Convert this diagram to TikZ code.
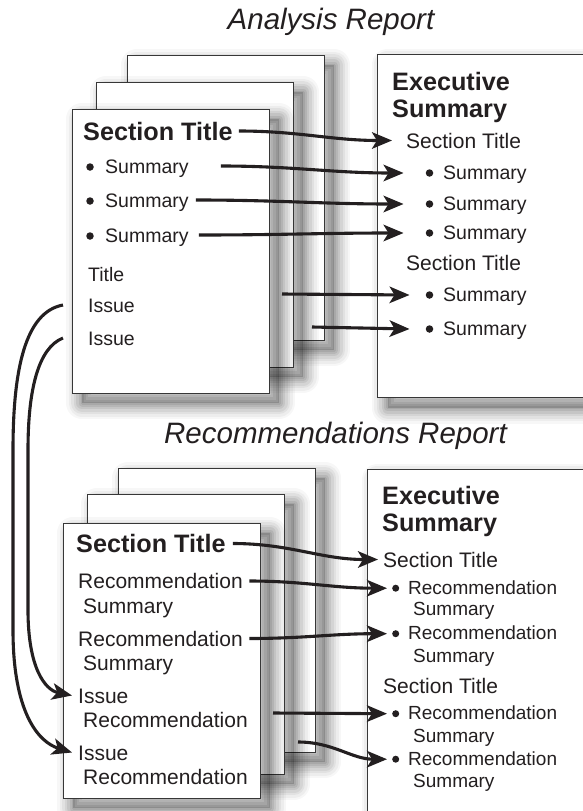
\documentclass[tikz,border=0pt]{standalone}
\usepackage{fontspec}
\setmainfont{Liberation Sans}
\usetikzlibrary{arrows.meta}
\definecolor{ink}{RGB}{35,31,32}
\definecolor{frame}{RGB}{55,55,55}

\begin{document}
\begin{tikzpicture}[x=1pt,y=-1pt,
  % soft drop shadow built from stacked translucent strokes
  shl/.style 2 args={preaction={draw=black, draw opacity=#2, line width=#1,
      line join=round, transform canvas={shift={(10pt,-10pt)}}}},
  softshadow/.style={
    preaction={fill=black, fill opacity=0.16, transform canvas={shift={(10pt,-10pt)}}},
    shl={32pt}{0.03}, shl={27pt}{0.04}, shl={22pt}{0.05}, shl={17pt}{0.06},
    shl={12pt}{0.07}, shl={7pt}{0.08}, shl={3pt}{0.08}},
  page/.style={draw=frame, line width=1pt, fill=white, inner sep=0pt, softshadow},
  txt/.style={inner sep=0pt, anchor=base west, text=ink, text depth=0pt,
      font=\fontsize{19.5}{22}\selectfont, text height=14pt},
  sec/.style={txt, font=\fontsize{21}{24}\selectfont, text height=15pt},
  rec/.style={txt, font=\fontsize{19}{22}\selectfont, text height=13.6pt},
  head/.style={txt, font=\bfseries\fontsize{25.2}{28}\selectfont, text height=18pt},
  ttl/.style={inner sep=0pt, anchor=base, text=ink, font=\itshape\fontsize{29.5}{32}\selectfont},
  dot/.style={circle, fill=ink, inner sep=0pt, minimum size=#1},
  dot/.default=7.5pt,
  arr/.style={draw=ink, line width=3.1pt, -{Stealth[length=20pt,width=16.5pt,inset=5pt]}},
]
\useasboundingbox (0,0) rectangle (583,811);

% ---------------- Analysis report ----------------
\node[ttl] (atitle) at (331,29.3) {Analysis Report};

\node[page, minimum width=197pt, minimum height=285pt] (pa3) at (225.5,197.5) {};
\node[page, minimum width=197pt, minimum height=285pt] (pa2) at (194.5,224.5) {};
\node[page, minimum width=197pt, minimum height=284pt] (pa1) at (170.5,251) {};
\node[page, minimum width=250pt, minimum height=343pt, anchor=north west] (ea) at (377,54) {};

\node[head] (ast) at (83,140) {Section Title};
\node[txt] (as1) at (105,173) {Summary};
\node[txt] (as2) at (105,207) {Summary};
\node[txt] (as3) at (105,242) {Summary};
\node[dot] (asb1) at ([xshift=-15pt,yshift=-1pt]as1.west) {};
\node[dot] (asb2) at ([xshift=-15pt,yshift=-1pt]as2.west) {};
\node[dot] (asb3) at ([xshift=-15pt,yshift=-1pt]as3.west) {};
\node[txt] (atl) at (88,281) {Title};
\node[txt] (ai1) at (88,312) {Issue};
\node[txt] (ai2) at (88,345) {Issue};

\node[head] (eah1) at (392,90.5) {Executive};
\node[head] (eah2) at (392,117) {Summary};
\node[sec] (est1) at (406,148) {Section Title};
\node[txt] (es1) at (443,179) {Summary};
\node[txt] (es2) at (443,210) {Summary};
\node[txt] (es3) at (443,239) {Summary};
\node[sec] (est2) at (406,270) {Section Title};
\node[txt] (es4) at (443,301) {Summary};
\node[txt] (es5) at (443,335) {Summary};
\foreach \n in {1,...,5}
  \node[dot] (esb\n) at ([xshift=-13.5pt,yshift=-1pt]es\n.west) {};

\coordinate (ca5) at (282,294);
\coordinate (ca6) at (312,327);

% ---------------- Recommendations report ----------------
\node[ttl] (rtitle) at (335.5,443) {Recommendations Report};

\node[page, minimum width=197pt, minimum height=284pt] (pb3) at (216.5,610) {};
\node[page, minimum width=197pt, minimum height=280pt] (pb2) at (185.5,634) {};
\node[page, minimum width=197pt, minimum height=275pt] (pb1) at (161.5,660.5) {};
\node[page, minimum width=250pt, minimum height=380pt, anchor=north west] (eb) at (367,469) {};

\node[head] (bst) at (76,552.5) {Section Title};
\node[sec] (br1) at (78,588.5) {Recommendation};
\node[sec] (bsu1) at (83,613) {Summary};
\node[sec] (br2) at (78,646) {Recommendation};
\node[sec] (bsu2) at (83,670) {Summary};
\node[sec] (bi1) at (78,703) {Issue};
\node[sec] (bir1) at (83,727) {Recommendation};
\node[sec] (bi2) at (78,760) {Issue};
\node[sec] (bir2) at (83,784) {Recommendation};

\node[head] (ebh1) at (382,504) {Executive};
\node[head] (ebh2) at (382,531.5) {Summary};
\node[sec] (best1) at (383,567) {Section Title};
\node[rec] (ber1) at (408,594) {Recommendation};
\node[rec] (bes1) at (413,615.5) {Summary};
\node[rec] (ber2) at (408,639.5) {Recommendation};
\node[rec] (bes2) at (413,662) {Summary};
\node[sec] (best2) at (383,693.5) {Section Title};
\node[rec] (ber3) at (408,719.5) {Recommendation};
\node[rec] (bes3) at (413,742) {Summary};
\node[rec] (ber4) at (408,765) {Recommendation};
\node[rec] (bes4) at (413,787.5) {Summary};
\foreach \n in {1,...,4}
  \node[dot=7pt] (berb\n) at ([xshift=-12.3pt,yshift=-1pt]ber\n.west) {};

\coordinate (cb4) at (273,713);
\coordinate (cb5) at (298,742);

% ---------------- connectors ----------------
\draw[arr] ([xshift=6pt]ast.east) to[out=0,in=180] ([xshift=-14pt]est1.west);
\draw[arr] ([xshift=32pt]as1.east) to[out=0,in=180] ([xshift=-22pt]esb1.west);
\draw[arr] ([xshift=7pt]as2.east) to[out=0,in=180] ([xshift=-22pt]esb2.west);
\draw[arr] ([xshift=10pt]as3.east) to[out=0,in=180] ([xshift=-22pt]esb3.west);
\draw[arr] (ca5) -- ([xshift=-16pt]esb4.west);
\draw[arr] (ca6) -- ([xshift=-16pt]esb5.west);

\draw[arr] ([xshift=-25pt]ai1.west) .. controls (25,312) and (13,370) .. (13,450)
  -- (13,630) .. controls (13,712) and (38,742) .. ([xshift=-6pt]bi2.west);
\draw[arr] ([xshift=-25pt]ai2.west) .. controls (38,348) and (28,390) .. (28,450)
  -- (28,610) .. controls (28,668) and (45,690) .. ([xshift=-6pt]bi1.west);

\draw[arr] ([xshift=7pt]bst.east) to[out=0,in=180] ([xshift=-5pt]best1.west);
\draw[arr] ([xshift=6.5pt]br1.east) to[out=0,in=180] ([xshift=-5pt]berb1.west);
\draw[arr] ([xshift=6.5pt]br2.east) to[out=0,in=180] ([xshift=-5pt]berb2.west);
\draw[arr] (cb4) -- ([xshift=-5pt]berb3.west);
\draw[arr] (cb5) to[out=0,in=180] ([xshift=-5pt]berb4.west);
\end{tikzpicture}
\end{document}
